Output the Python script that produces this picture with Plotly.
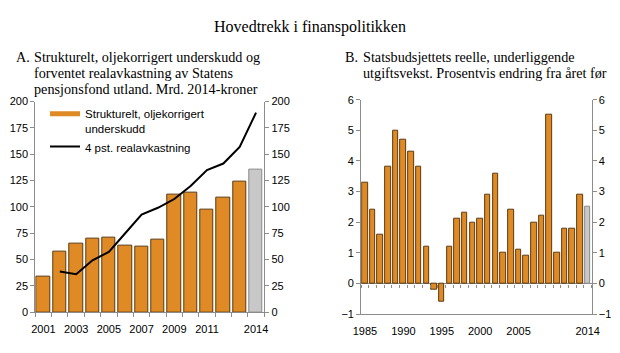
import plotly.graph_objects as go

# ---- Data ----
years_a = list(range(2001, 2015))
deficit = [34, 57.3, 65.5, 69.5, 70.7, 63.7, 61.9, 69.2, 111.5, 113.3, 97.1, 109.3, 124.3, 135]
years_line = list(range(2002, 2015))
real_return = [38.6, 36.1, 49.3, 57.3, 75, 92.8, 99.2, 107.5, 119.8, 135, 141.2, 157, 189.6]
tick_a = [2001, 2003, 2005, 2007, 2009, 2011, 2014]

years_b = list(range(1985, 2015))
growth = [3.3, 2.4, 1.6, 3.8, 5.0, 4.7, 4.3, 3.8, 1.2, -0.2, -0.6, 1.2, 2.1, 2.3, 2.0,
          2.1, 2.9, 3.6, 1.0, 2.4, 1.1, 0.9, 2.0, 2.2, 5.5, 1.0, 1.8, 1.8, 2.9, 2.5]
tick_b = [1985, 1990, 1995, 2000, 2005, 2014]

W, H = 620, 353
ORANGE = "#DF8A25"
ORANGE_EDGE = "#5A3A12"
GRAY = "#C8C8C8"
GRAY_EDGE = "#8A8A8A"
AXIS = "#8C8C8C"
SANS = "Liberation Sans, Arial, sans-serif"
SERIF = "Liberation Serif, Times New Roman, serif"

def px(x):
    return x / W

def py(y):
    return 1 - y / H

dom_xa = [px(28), px(263)]
dom_xb = [px(362.5), px(599)]
dom_ya = [py(317), py(99)]
dom_yb = [py(319), py(97)]
zero_b = dom_yb[0] + (0 - (-1)) / 7 * (dom_yb[1] - dom_yb[0])

fig = go.Figure()

# Panel A bars
fig.add_trace(go.Bar(x=years_a[:-1], y=deficit[:-1], showlegend=False,
                     marker=dict(color=ORANGE, line=dict(color=ORANGE_EDGE, width=1)),
                     width=0.82, xaxis="x", yaxis="y"))
fig.add_trace(go.Bar(x=years_a[-1:], y=deficit[-1:], showlegend=False,
                     marker=dict(color=GRAY, line=dict(color=GRAY_EDGE, width=1)),
                     width=0.82, xaxis="x", yaxis="y"))
# legend entry for bars (wide, thin swatch as in the reference)
fig.add_trace(go.Scatter(x=[None], y=[None], mode="lines", name="Strukturelt, oljekorrigert<br>underskudd",
                         line=dict(color=ORANGE, width=5), xaxis="x", yaxis="y", legendrank=1))
fig.add_trace(go.Scatter(x=years_line, y=real_return, mode="lines", name="4 pst. realavkastning",
                         line=dict(color="black", width=2), xaxis="x", yaxis="y", legendrank=2))

# Panel B bars
fig.add_trace(go.Bar(x=years_b[:-1], y=growth[:-1], showlegend=False,
                     marker=dict(color=ORANGE, line=dict(color=ORANGE_EDGE, width=1)),
                     width=0.72, xaxis="x2", yaxis="y2"))
fig.add_trace(go.Bar(x=years_b[-1:], y=growth[-1:], showlegend=False,
                     marker=dict(color=GRAY, line=dict(color=GRAY_EDGE, width=1)),
                     width=0.72, xaxis="x2", yaxis="y2"))

tickfont = dict(family=SANS, size=11, color="black")
ra = [2000.5, 2014.5]
rb = [1984.5, 2014.5]

fig.update_layout(
    width=W, height=H,
    margin=dict(l=0, r=0, t=0, b=0),
    paper_bgcolor="white", plot_bgcolor="white",
    barmode="overlay", bargap=0,
    showlegend=True,
    legend=dict(x=px(38), y=py(97), xanchor="left", yanchor="top",
                font=dict(family=SANS, size=11.5, color="black"),
                bgcolor="rgba(0,0,0,0)", valign="top", tracegroupgap=3,
                itemwidth=30, traceorder="normal"),
    xaxis=dict(domain=dom_xa, range=ra, anchor="y", tickmode="array", tickvals=tick_a,
               ticks="", showline=True, linecolor=AXIS, linewidth=1, showgrid=False,
               zeroline=False, tickfont=tickfont, ticklabelstandoff=7),
    xaxis3=dict(overlaying="x", range=ra, anchor="y", tickmode="array",
                tickvals=[y + 0.5 for y in [2000] + years_a], ticks="outside", ticklen=4,
                tickcolor=AXIS, showticklabels=False, showline=False, showgrid=False, zeroline=False),
    yaxis=dict(domain=dom_ya, range=[0, 200], dtick=25, anchor="x", ticks="outside", ticklen=4,
               tickcolor=AXIS, showline=True, linecolor=AXIS, showgrid=False, zeroline=False,
               tickfont=tickfont),
    yaxis3=dict(overlaying="y", side="right", range=[0, 200], dtick=25, anchor="x", ticks="outside",
                ticklen=4, tickcolor=AXIS, showline=True, linecolor=AXIS, showgrid=False,
                zeroline=False, tickfont=tickfont),
    xaxis2=dict(domain=dom_xb, range=rb, anchor="y2", tickmode="array", tickvals=tick_b,
                ticks="", showline=True, linecolor=AXIS, linewidth=1, showgrid=False,
                zeroline=False, tickfont=tickfont, ticklabelstandoff=7),
    xaxis4=dict(overlaying="x2", range=rb, anchor="free", position=zero_b, tickmode="array",
                tickvals=[y + 0.5 for y in [1984] + years_b], ticks="outside", ticklen=3,
                tickcolor=AXIS, showticklabels=False, showline=False, showgrid=False, zeroline=False),
    yaxis2=dict(domain=dom_yb, range=[-1, 6], dtick=1, anchor="x2", ticks="outside", ticklen=4,
                tickcolor=AXIS, showline=True, linecolor=AXIS, showgrid=False, zeroline=True,
                zerolinecolor=AXIS, zerolinewidth=1, tickfont=tickfont),
    yaxis4=dict(overlaying="y2", side="right", range=[-1, 6], dtick=1, anchor="x2", ticks="outside",
                ticklen=4, tickcolor=AXIS, showline=True, linecolor=AXIS, showgrid=False,
                zeroline=False, tickfont=tickfont),
)

# dummy traces to activate overlay axes
fig.add_trace(go.Scatter(x=[None], y=[None], xaxis="x3", yaxis="y3", showlegend=False, hoverinfo="skip"))
fig.add_trace(go.Scatter(x=[None], y=[None], xaxis="x4", yaxis="y4", showlegend=False, hoverinfo="skip"))

# Titles
ann = []
ann.append(dict(text="Hovedtrekk i finanspolitikken", x=0.5, y=py(22), xref="paper", yref="paper",
                xanchor="center", yanchor="middle", showarrow=False,
                font=dict(family=SERIF, size=16, color="black")))
sub_a = ["Strukturelt, oljekorrigert underskudd og", "forventet realavkastning av Statens",
         "pensjonsfond utland. Mrd. 2014-kroner"]
sub_b = ["Statsbudsjettets reelle, underliggende", "utgiftsvekst. Prosentvis endring fra året før"]
FS = 14.2
LY = [53, 69.3, 85.6]
ann.append(dict(text="A.", x=px(6), y=py(LY[0]), xref="paper", yref="paper", xanchor="left",
                yanchor="middle", showarrow=False, font=dict(family=SERIF, size=FS, color="black")))
for i, t in enumerate(sub_a):
    ann.append(dict(text=t, x=px(24.5), y=py(LY[i]), xref="paper", yref="paper", xanchor="left",
                    yanchor="middle", showarrow=False, font=dict(family=SERIF, size=FS, color="black")))
ann.append(dict(text="B.", x=px(343.5), y=py(LY[0]), xref="paper", yref="paper", xanchor="left",
                yanchor="middle", showarrow=False, font=dict(family=SERIF, size=FS, color="black")))
for i, t in enumerate(sub_b):
    ann.append(dict(text=t, x=px(362.5), y=py(LY[i]), xref="paper", yref="paper", xanchor="left",
                    yanchor="middle", showarrow=False, font=dict(family=SERIF, size=FS, color="black")))
fig.update_layout(annotations=ann)

fig.write_html("out.html")
